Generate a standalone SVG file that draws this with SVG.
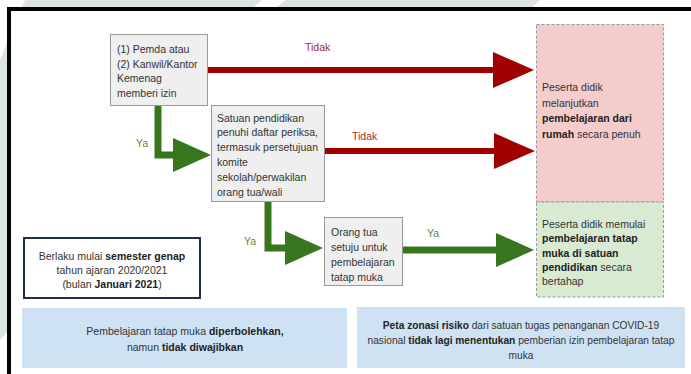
<svg xmlns="http://www.w3.org/2000/svg" width="691" height="374" viewBox="0 0 691 374">
<style>
text{font-family:"Liberation Sans",Arial,sans-serif;font-size:10.5px;fill:#333}
.b{font-weight:bold;fill:#222}
.box{fill:#efefef;stroke:#9a9a9a;stroke-width:1}
.dash{stroke:#999;stroke-width:1;stroke-dasharray:3 2}
.red{stroke:#a00000;stroke-width:6;fill:none}
.grn{stroke:#38761d;stroke-width:7;fill:none}
.lr{fill:#a52a2a;font-size:10.5px}
.lg{fill:#5b8a45;font-size:10.5px}
.blue{fill:#cfe2f3}
.sm{font-size:10.2px}
</style>
<defs>
<marker id="hr" markerUnits="userSpaceOnUse" markerWidth="44" markerHeight="38" refX="0" refY="18" orient="auto" overflow="visible"><path d="M0,0 L41,18 L0,36 Z" fill="#a00000"/></marker>
<marker id="hg" markerUnits="userSpaceOnUse" markerWidth="42" markerHeight="36" refX="0" refY="17" orient="auto" overflow="visible"><path d="M0,0 L38,17 L0,34 Z" fill="#38761d"/></marker>
</defs>
<g id="background">
<rect x="0" y="0" width="691" height="374" fill="#dbe4de"/>
<polygon points="0,0 25,0 0,60" fill="#fff"/>
<polygon points="262,0 285,0 275,9 252,9" fill="#fff"/>
<polygon points="540,0 691,0 691,9 530,9" fill="#fff"/>
<polygon points="0,340 9,330 9,374 0,374" fill="#fff"/>
<rect x="9" y="9" width="720" height="420" fill="#fff" stroke="#000" stroke-width="4"/>
</g>
<g id="connectors">
<path class="red" d="M207,70 H493" marker-end="url(#hr)"/>
<path class="red" d="M325,151 H494" marker-end="url(#hr)"/>
<path class="grn" d="M158,105 V155 H173" marker-end="url(#hg)"/>
<path class="grn" d="M268,201 V248 H285" marker-end="url(#hg)"/>
<path class="grn" d="M402,250 H496" marker-end="url(#hg)"/>
<text class="lr" x="305" y="51">Tidak</text>
<text class="lr" x="352" y="140">Tidak</text>
<text class="lg" x="136" y="147">Ya</text>
<text class="lg" x="244" y="245">Ya</text>
<text class="lg" x="427" y="237">Ya</text>
</g>
<g id="node-izin">
<rect class="box" x="110.5" y="34.5" width="97" height="71"/>
<text x="117" y="53">(1) Pemda atau</text>
<text x="117" y="67.5">(2) Kanwil/Kantor</text>
<text x="117" y="82">Kemenag</text>
<text x="117" y="96.5">memberi izin</text>
</g>
<g id="node-daftar">
<rect class="box" x="211.5" y="105.5" width="113" height="96"/>
<text x="217" y="121.5">Satuan pendidikan</text>
<text x="217" y="136.3">penuhi daftar periksa,</text>
<text x="217" y="151.1">termasuk persetujuan</text>
<text x="217" y="165.9">komite</text>
<text x="217" y="180.7">sekolah/perwakilan</text>
<text x="217" y="195.5">orang tua/wali</text>
</g>
<g id="node-ortu">
<rect class="box" x="324.5" y="217.5" width="78" height="68"/>
<text x="331" y="235.5">Orang tua</text>
<text x="331" y="250.5">setuju untuk</text>
<text x="331" y="265.5">pembelajaran</text>
<text x="331" y="280.5">tatap muka</text>
</g>
<g id="node-rumah">
<rect class="dash" x="536.5" y="24.5" width="127" height="177.5" fill="#f4cccc"/>
<text x="542" y="91">Peserta didik</text>
<text x="542" y="106.5">melanjutkan</text>
<text x="542" y="122"><tspan class="b">pembelajaran dari</tspan></text>
<text x="542" y="137.5"><tspan class="b">rumah</tspan> secara penuh</text>
</g>
<g id="node-tatapmuka">
<rect class="dash" x="536.5" y="202" width="127" height="95" fill="#d9ead3"/>
<text x="542" y="228">Peserta didik memulai</text>
<text x="542" y="242.3"><tspan class="b">pembelajaran tatap</tspan></text>
<text x="542" y="256.6"><tspan class="b">muka di satuan</tspan></text>
<text x="542" y="270.9"><tspan class="b">pendidikan</tspan> secara</text>
<text x="542" y="285.2">bertahap</text>
</g>
<g id="node-berlaku">
<rect x="24" y="238" width="176" height="60" fill="#fff" stroke="#20304f" stroke-width="2"/>
<text x="112" y="260" text-anchor="middle">Berlaku mulai <tspan class="b">semester genap</tspan></text>
<text x="112" y="274" text-anchor="middle">tahun ajaran 2020/2021</text>
<text x="112" y="288" text-anchor="middle">(bulan <tspan class="b">Januari 2021</tspan>)</text>
</g>
<g id="node-diperbolehkan">
<rect class="blue" x="22" y="308" width="325" height="60"/>
<text x="185" y="335" text-anchor="middle">Pembelajaran tatap muka <tspan class="b">diperbolehkan,</tspan></text>
<text x="185" y="350.5" text-anchor="middle">namun <tspan class="b">tidak diwajibkan</tspan></text>
</g>
<g id="node-zonasi">
<rect class="blue" x="357" y="307" width="328" height="61"/>
<text class="sm" x="521" y="329" text-anchor="middle"><tspan class="b">Peta zonasi risiko</tspan> dari satuan tugas penanganan COVID-19</text>
<text class="sm" x="521" y="344" text-anchor="middle">nasional <tspan class="b">tidak lagi menentukan</tspan> pemberian izin pembelajaran tatap</text>
<text class="sm" x="521" y="359" text-anchor="middle">muka</text>
</g>
</svg>
